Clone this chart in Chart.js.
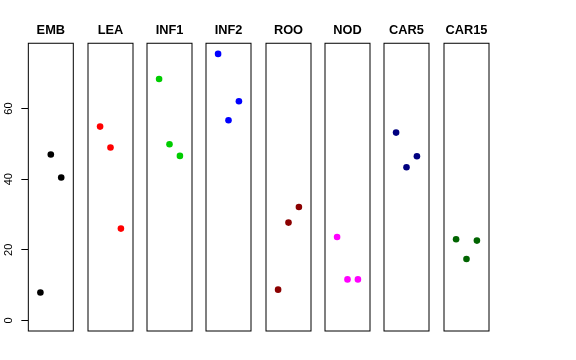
<!DOCTYPE html>
<html><head><meta charset="utf-8">
<script src="https://cdn.jsdelivr.net/npm/chart.js@4/dist/chart.umd.min.js"></script>
<style>
html,body{margin:0;padding:0;background:#fff;}
#wrap{position:relative;width:576px;height:360px;overflow:hidden;background:#fff;}
.p{position:absolute;top:0;height:360px;}
</style>
</head><body><div id="wrap"></div>
<script>
// ---- data ----
const categories = ['EMB','LEA','INF1','INF2','ROO','NOD','CAR5','CAR15'];
const replicate = [1, 2, 3];
const valEMB   = [7.9, 47.0, 40.5];
const valLEA   = [54.9, 49.0, 26.0];
const valINF1  = [68.4, 49.9, 46.6];
const valINF2  = [75.5, 56.7, 62.1];
const valROO   = [8.7, 27.7, 32.1];
const valNOD   = [23.6, 11.6, 11.6];
const valCAR5  = [53.2, 43.4, 46.5];
const valCAR15 = [23.0, 17.4, 22.6];
const yTicks = [0, 20, 40, 60];

// ---- styles ----
const seriesValues = [valEMB, valLEA, valINF1, valINF2, valROO, valNOD, valCAR5, valCAR15];
const colors = ['#000000','#FF0000','#00CD00','#0000FF','#8B0000','#FF00FF','#000080','#006400'];
const FONT = '"Liberation Sans", Arial, Helvetica, sans-serif';
const Y_MIN = -3.02, Y_MAX = 78.52;
const X_MIN = -0.16, X_MAX = 4.16;
const AXIS_W = 28.33, PANEL_W = 45, STEP = 59.33;

const boxPlugin = {
  id: 'box',
  afterDraw(chart) {
    const {ctx, chartArea: a} = chart;
    ctx.save();
    ctx.strokeStyle = '#000';
    ctx.lineWidth = 1;
    ctx.strokeRect(a.left, a.top, a.right - a.left, a.bottom - a.top);
    ctx.restore();
  }
};

const wrap = document.getElementById('wrap');
categories.forEach((cat, i) => {
  const div = document.createElement('div');
  div.className = 'p';
  const first = i === 0;
  const left = first ? 0 : AXIS_W + STEP * i - 1;
  const width = first ? AXIS_W + PANEL_W + 1 : PANEL_W + 2;
  div.style.left = left + 'px';
  div.style.width = width + 'px';
  const cv = document.createElement('canvas');
  div.appendChild(cv);
  wrap.appendChild(div);

  const yScale = {
    type: 'linear',
    display: first,
    position: 'left',
    min: Y_MIN, max: Y_MAX,
    afterBuildTicks: s => { s.ticks = yTicks.map(v => ({value: v})); },
    border: { display: false },
    grid: { drawOnChartArea: false, drawTicks: true, tickLength: 7, color: '#000', lineWidth: 1 },
    ticks: {
      color: '#000',
      font: { family: FONT, size: 11 },
      minRotation: 90, maxRotation: 90,
      crossAlign: 'center',
      padding: 6.5
    }
  };
  if (first) yScale.afterFit = s => { s.width = AXIS_W; };

  new Chart(cv, {
    type: 'scatter',
    data: {
      datasets: [{
        label: cat,
        data: replicate.map((x, j) => ({x: x, y: seriesValues[i][j]})),
        backgroundColor: colors[i],
        borderColor: colors[i],
        pointRadius: 3.3,
        pointBorderWidth: 0,
        pointHoverRadius: 3.3
      }]
    },
    options: {
      responsive: true,
      maintainAspectRatio: false,
      animation: false,
      events: [],
      layout: { autoPadding: false, padding: { left: first ? 0 : 1, right: 1, top: 0, bottom: 29 } },
      plugins: {
        legend: { display: false },
        tooltip: { enabled: false },
        title: {
          display: true,
          text: cat,
          fullSize: false,
          color: '#000',
          font: { family: FONT, size: 12.8, weight: 'bold' },
          padding: { top: 22.5, bottom: 5.4 }
        }
      },
      scales: {
        x: { type: 'linear', display: false, min: X_MIN, max: X_MAX },
        y: yScale
      }
    },
    plugins: [boxPlugin]
  });
});
</script>
</body></html>
